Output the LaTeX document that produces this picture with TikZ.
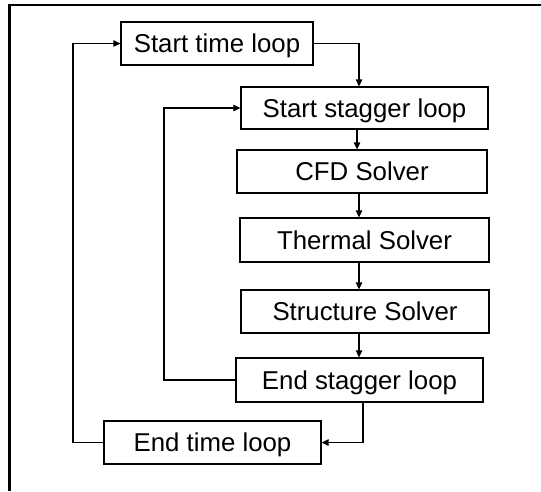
\documentclass[tikz,border=0pt]{standalone}
\usepackage{fontspec}
\setmainfont{Liberation Sans}
\usetikzlibrary{arrows.meta}
\begin{document}
\begin{tikzpicture}[x=1pt,y=-1pt,
  box/.style={draw, line width=1.3pt, rectangle, inner sep=0pt, font=\fontsize{25.8}{30}\selectfont, text height=18.6pt, text depth=0pt},
  conn/.style={line width=1.3pt},
  arr/.style={line width=1.3pt, -{Triangle[length=7pt,width=6.5pt]}}]
\useasboundingbox (0,0) rectangle (541,491);
\fill[white] (0,0) rectangle (541,491);
\draw[line width=2.4pt] (9.5,491) -- (9.5,4.8) -- (541,4.8);
\node[box, minimum width=192pt, minimum height=43pt] (stl) at (217,43.5) {Start time loop};
\node[box, minimum width=247pt, minimum height=42pt] (ssl) at (364.5,108) {Start stagger loop};
\node[box, minimum width=250pt, minimum height=43pt] (cfd) at (362,171.5) {CFD Solver};
\node[box, minimum width=249pt, minimum height=44pt] (th) at (364.5,240) {Thermal Solver};
\node[box, minimum width=248pt, minimum height=43pt] (st) at (365,311.5) {Structure Solver};
\node[box, minimum width=247pt, minimum height=44pt] (esl) at (359.5,380) {End stagger loop};
\node[box, minimum width=217pt, minimum height=43pt] (etl) at (212.5,442.5) {End time loop};
\coordinate (vx) at (359,0);
\coordinate (vs) at (357,0);
\coordinate (ve) at (363,0);
\coordinate (lx1) at (164,0);
\coordinate (lx2) at (73,0);
% forward flow
\draw[arr] (stl.east) -- (stl.east -| vx) -- (ssl.north -| vx);
\draw[arr] (ssl.south -| vs) -- (cfd.north -| vs);
\draw[arr] (cfd.south -| vx) -- (th.north -| vx);
\draw[arr] (th.south -| vx) -- (st.north -| vx);
\draw[arr] (st.south -| vx) -- (esl.north -| vx);
\draw[arr] (esl.south -| ve) -- (etl.east -| ve) -- (etl.east);
% loops back
\draw[arr] (esl.west) -- (esl.west -| lx1) -- (ssl.west -| lx1) -- (ssl.west);
\draw[arr] (etl.west) -- (etl.west -| lx2) -- (stl.west -| lx2) -- (stl.west);
\end{tikzpicture}
\end{document}
